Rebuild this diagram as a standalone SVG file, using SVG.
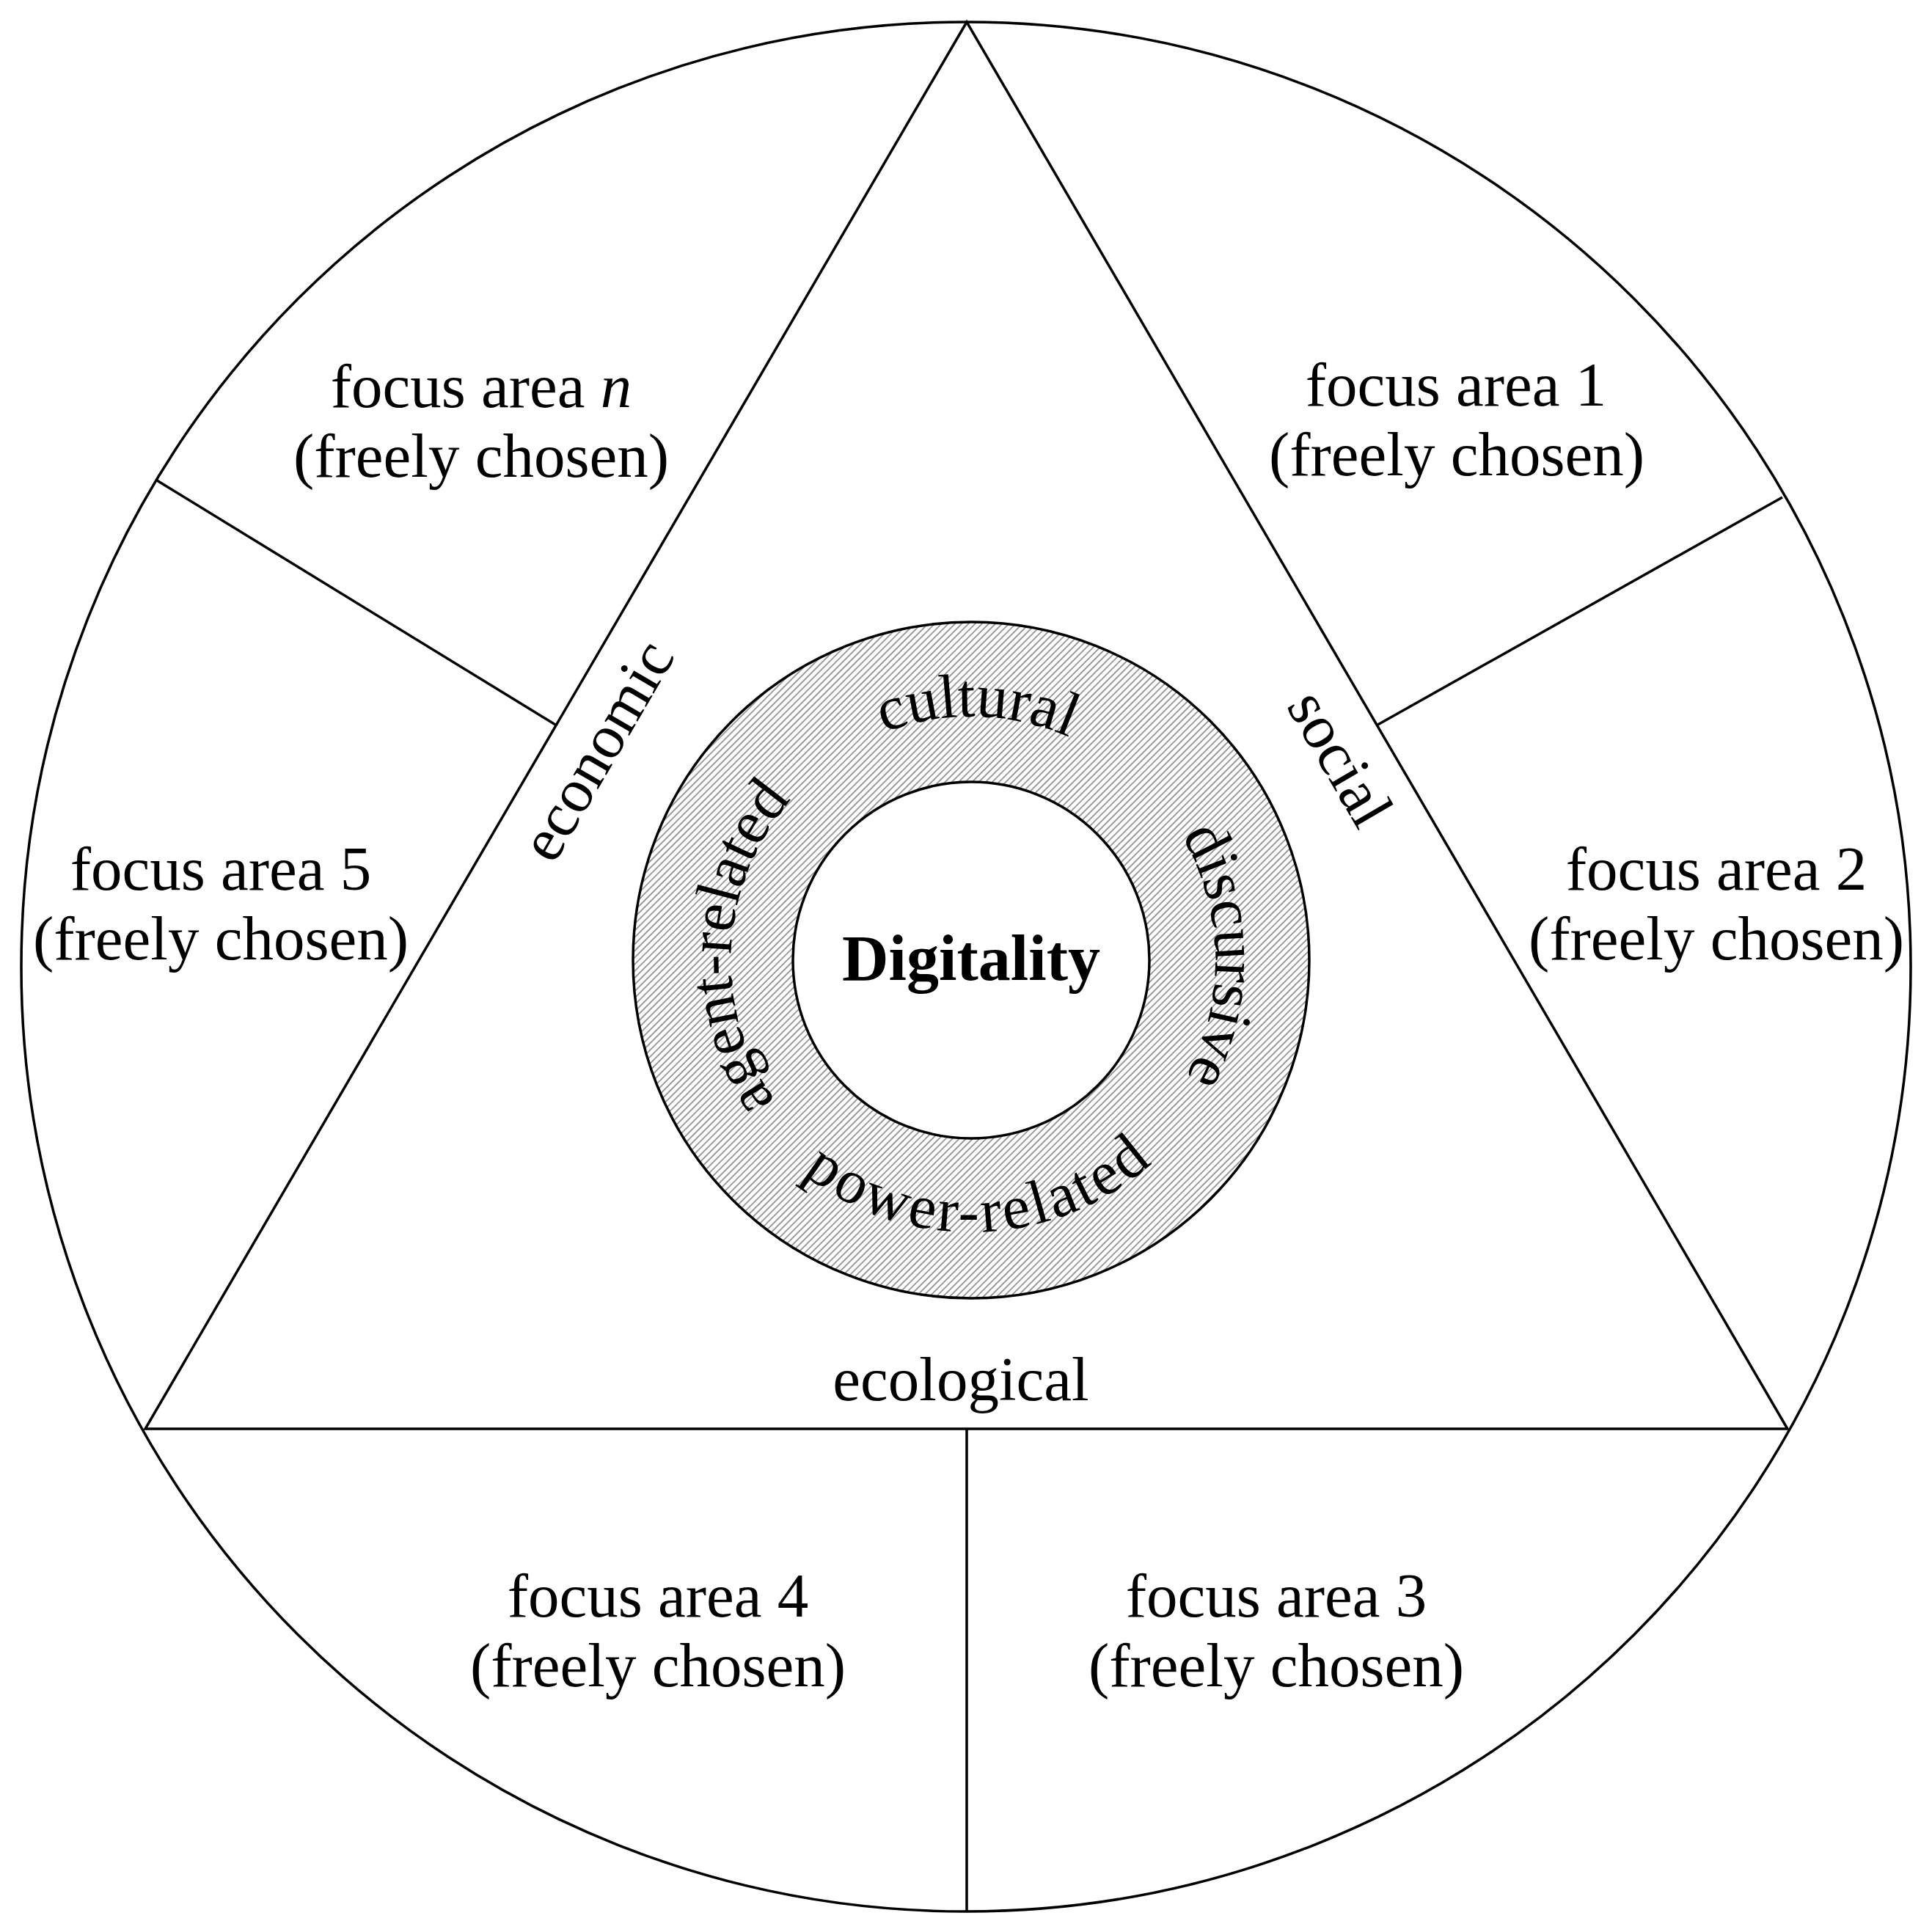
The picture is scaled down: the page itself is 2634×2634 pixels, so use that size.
<svg xmlns="http://www.w3.org/2000/svg" width="2634" height="2634" viewBox="0 0 2634 2634">
<style>
.ln{fill:none;stroke:#000;stroke-width:3.5;stroke-linejoin:miter}
.t{font-family:"Liberation Serif","Times New Roman",serif;font-size:85px;fill:#000;text-anchor:middle}
.b{font-weight:bold;font-size:88px}
</style>
<defs>
<pattern id="hatch" patternUnits="userSpaceOnUse" width="6.5" height="6.5" patternTransform="rotate(45)">
<rect width="6.5" height="6.5" fill="#fff"/>
<line x1="1" y1="0" x2="1" y2="6.5" stroke="#6a6a6a" stroke-width="1.3"/>
</pattern>
<path id="pCultural" d="M 991.1 1300.9 A 333 333 0 0 1 1656.9 1317.1"/>
<path id="pDiscursive" d="M 1318.2 976.0 A 333 333 0 0 1 1329.8 1642.0"/>
<path id="pAgent" d="M 1306.6 1641.5 A 333 333 0 0 1 1341.4 976.5"/>
<path id="pPower" d="M 953.2 1321.9 A 371 371 0 0 0 1694.8 1296.1"/>
</defs>
<rect width="2634" height="2634" fill="#fff"/>
<g id="outer-circle">
<circle class="ln" cx="1317" cy="1318" r="1288"/>
</g>
<g id="triangle">
<polygon class="ln" points="1318,30 198,1948 2437,1948"/>
</g>
<g id="connectors">
<line class="ln" x1="214" y1="655" x2="758" y2="988.5"/>
<line class="ln" x1="2430" y1="678" x2="1877.5" y2="988.5"/>
<line class="ln" x1="1318" y1="1948" x2="1318" y2="2606"/>
</g>
<g id="ring">
<circle cx="1324" cy="1309" r="461" fill="url(#hatch)" stroke="#000" stroke-width="3.5"/>
<text class="t"><textPath href="#pCultural" startOffset="50%">cultural</textPath></text>
<text class="t"><textPath href="#pDiscursive" startOffset="50%">discursive</textPath></text>
<text class="t"><textPath href="#pAgent" startOffset="50%">agent-related</textPath></text>
<text class="t" letter-spacing="4"><textPath href="#pPower" startOffset="50%">power-related</textPath></text>
</g>
<g id="digitality">
<circle cx="1324" cy="1309" r="243" fill="#fff" stroke="#000" stroke-width="3.5"/>
<text class="t b" x="1324" y="1336">Digitality</text>
</g>
<g id="dimension-economic">
<text class="t" transform="translate(838,1037) rotate(-59.73)">economic</text>
</g>
<g id="dimension-social">
<text class="t" transform="translate(1803,1048) rotate(59.74)">social</text>
</g>
<g id="dimension-ecological">
<text class="t" x="1310" y="1909">ecological</text>
</g>
<g id="focus-area-n">
<text class="t" x="656" y="555">focus area <tspan font-style="italic">n</tspan></text>
<text class="t" x="656" y="650">(freely chosen)</text>
</g>
<g id="focus-area-1">
<text class="t" x="1985" y="553">focus area 1</text>
<text class="t" x="1986" y="648">(freely chosen)</text>
</g>
<g id="focus-area-2">
<text class="t" x="2340" y="1213">focus area 2</text>
<text class="t" x="2340" y="1308">(freely chosen)</text>
</g>
<g id="focus-area-3">
<text class="t" x="1740" y="2204">focus area 3</text>
<text class="t" x="1740" y="2299">(freely chosen)</text>
</g>
<g id="focus-area-4">
<text class="t" x="897" y="2204">focus area 4</text>
<text class="t" x="897" y="2299">(freely chosen)</text>
</g>
<g id="focus-area-5">
<text class="t" x="301" y="1213">focus area 5</text>
<text class="t" x="301" y="1308">(freely chosen)</text>
</g>
</svg>
